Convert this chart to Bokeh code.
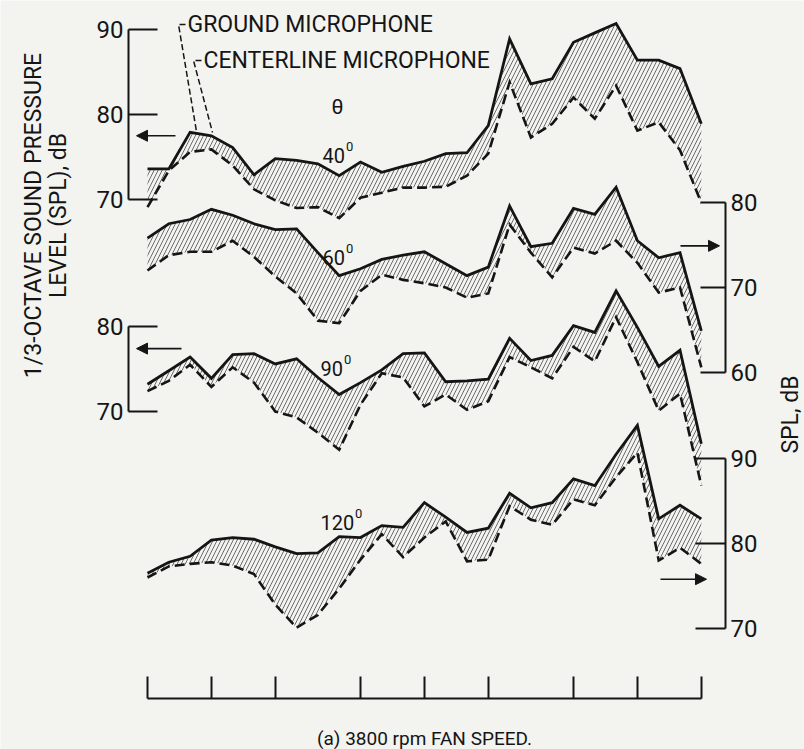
from bokeh.plotting import figure
from bokeh.models import Range1d, LinearAxis, FixedTicker, Arrow, NormalHead, Grid
from bokeh.core.properties import value
from bokeh.embed import file_html
from bokeh.resources import INLINE

# ---- data: 1/3-octave band index, SPL in dB for each directivity angle ----
bands = list(range(27))
band_ticks = [0, 3, 6, 10, 13, 16, 20, 23, 26]

ground_40 = [73.6, 73.6, 77.9, 77.5, 76.1, 72.9, 74.8, 74.6, 74.2, 72.8, 74.4, 73.2, 73.9, 74.5,
             75.4, 75.5, 78.7, 88.9, 83.6, 84.2, 88.5, 89.6, 90.7, 86.4, 86.4, 85.4, 78.9]
center_40 = [69.1, 73.4, 75.6, 75.9, 74.0, 71.2, 69.9, 69.0, 69.1, 67.8, 70.2, 70.8, 71.4, 71.4,
             71.5, 72.8, 75.4, 83.8, 77.3, 78.9, 82.0, 79.5, 83.4, 78.1, 79.1, 75.8, 69.6]

ground_60 = [75.8, 77.5, 78.0, 79.2, 78.5, 77.5, 76.8, 76.9, 74.1, 71.4, 72.2, 73.3, 73.8, 74.2,
             72.8, 71.4, 72.4, 79.6, 74.8, 75.2, 79.3, 78.6, 81.8, 75.5, 73.5, 74.1, 64.9]
center_60 = [72.0, 73.8, 74.2, 74.2, 75.5, 73.6, 71.3, 69.3, 66.1, 65.8, 69.6, 71.5, 70.9, 70.5,
             70.0, 68.8, 69.3, 77.4, 74.1, 71.2, 74.7, 74.0, 75.5, 72.9, 69.4, 70.0, 60.6]

ground_90 = [73.2, 74.8, 76.4, 73.9, 76.7, 76.8, 75.6, 76.2, 74.0, 72.0, 73.4, 74.9, 76.8, 76.9,
             73.5, 73.6, 73.8, 78.6, 76.0, 76.6, 80.1, 79.3, 84.2, 79.9, 75.3, 77.2, 66.2]
center_90 = [72.4, 73.6, 75.5, 72.9, 75.2, 73.4, 70.0, 69.3, 67.5, 65.5, 70.8, 74.5, 74.0, 70.6,
             72.0, 70.2, 71.2, 76.4, 75.2, 73.9, 77.6, 75.9, 81.1, 75.8, 70.1, 72.1, 61.3]

ground_120 = [76.5, 77.8, 78.5, 80.4, 80.7, 80.5, 79.6, 78.8, 78.9, 80.8, 80.7, 82.1, 81.9, 84.8,
              83.1, 81.3, 81.8, 85.9, 84.2, 84.8, 87.6, 86.8, 90.5, 93.9, 82.9, 84.5, 82.9]
center_120 = [76.0, 77.3, 77.6, 77.8, 77.4, 76.4, 72.8, 70.1, 71.6, 74.7, 78.1, 81.1, 78.4, 80.7,
              82.6, 77.9, 78.1, 84.4, 82.8, 82.2, 85.2, 84.5, 87.8, 90.7, 78.0, 79.5, 77.6]

scale_40 = [70, 80, 90]
scale_60 = [60, 70, 80]
scale_90 = [70, 80]
scale_120 = [70, 80, 90]

angle_labels = ["40", "60", "90", "120"]

# ---- layout ----
W, H = 804, 749
X0_PX, PX_PER_BAND = 147.0, 21.3      # screen column of band 0, band spacing
PX_PER_DB = 8.5
ROW_70 = {"40": 199, "60": 287, "90": 411, "120": 628}   # screen row of 70 dB per scale
FONT = "Roboto"
INK = "#151515"
HATCH = "#4a4a4a"
PAPER = "#f3f3f0"


def bx(px):
    return (px - X0_PX) / PX_PER_BAND


def dby(px, key="40"):
    return 70.0 + (ROW_70[key] - px) / PX_PER_DB


def y_range_for(key):
    return Range1d(dby(H, key), dby(0, key))


p = figure(width=W, height=H, x_range=Range1d(bx(0), bx(W)), y_range=y_range_for("40"),
           x_axis_location=None, y_axis_location=None, toolbar_location=None,
           output_backend="svg", min_border=0, background_fill_color=PAPER,
           border_fill_color=PAPER, outline_line_color=None)
p.extra_y_ranges = {k: y_range_for(k) for k in ("60", "90", "120")}
for r in p.center:
    if isinstance(r, Grid):
        r.visible = False

panels = [
    dict(key="40", g=ground_40, c=center_40, ticks=scale_40, side="left", tick_len=29,
         arrow=(77.5, 175, 136), label=(322, 155)),
    dict(key="60", g=ground_60, c=center_60, ticks=scale_60, side="right", tick_len=25,
         arrow=(74.9, 680, 719), label=(322, 257)),
    dict(key="90", g=ground_90, c=center_90, ticks=scale_90, side="left", tick_len=29,
         arrow=(77.4, 181, 136), label=(320, 368)),
    dict(key="120", g=ground_120, c=center_120, ticks=scale_120, side="right", tick_len=30,
         arrow=(75.8, 660, 706), label=(320, 522)),
]

for pan, name in zip(panels, angle_labels):
    key = pan["key"]
    rn = "default" if key == "40" else key

    # hatched band between the two microphones
    p.varea(x=bands, y1=pan["g"], y2=pan["c"], y_range_name=rn, fill_alpha=0,
            hatch_pattern="/", hatch_scale=8, hatch_weight=1, hatch_color=HATCH,
            hatch_alpha=0.8)
    p.line(bands, pan["c"], y_range_name=rn, line_color=INK, line_width=2.6,
           line_dash="10 5", line_join="miter")
    p.line(bands, pan["g"], y_range_name=rn, line_color=INK, line_width=2.8,
           line_join="miter")

    # bracket scale for this angle
    xloc = bx(128) if pan["side"] == "left" else bx(725)
    ax = LinearAxis(y_range_name=rn, fixed_location=xloc,
                    bounds=(min(pan["ticks"]), max(pan["ticks"])),
                    ticker=FixedTicker(ticks=pan["ticks"]),
                    major_tick_in=pan["tick_len"], major_tick_out=0,
                    minor_tick_in=0, minor_tick_out=0,
                    axis_line_color=INK, axis_line_width=2,
                    major_tick_line_color=INK, major_tick_line_width=2,
                    major_label_standoff=5, major_label_text_font=FONT,
                    major_label_text_font_size="24px", major_label_text_color=INK)
    p.add_layout(ax, pan["side"])

    # arrow pointing to the scale in use
    lvl, xs, xe = pan["arrow"]
    p.add_layout(Arrow(end=NormalHead(size=11, fill_color=INK, line_color=INK),
                       x_start=bx(xs), y_start=lvl, x_end=bx(xe), y_end=lvl,
                       y_range_name=rn, line_color=INK, line_width=1.6))

    # angle label with superscript degree mark
    lx, ly = pan["label"]
    p.text(x=[bx(lx)], y=[dby(ly, key)], text=[name], y_range_name=rn,
           text_font=value(FONT), text_font_size="20px", text_color=INK,
           text_align="left", text_baseline="alphabetic")
    p.text(x=[bx(lx)], y=[dby(ly, key)], text=["0"], y_range_name=rn,
           x_offset=11.2 * len(name) + 1, y_offset=-9,
           text_font=value(FONT), text_font_size="13px", text_color=INK,
           text_align="left", text_baseline="alphabetic")

# theta heading over the angle labels
p.text(x=[bx(337)], y=[dby(106)], text=["\u03b8"], text_font=value(FONT),
       text_font_size="21px", text_color=INK, text_align="center", text_baseline="middle")

# band axis along the bottom
bottom = LinearAxis(fixed_location=dby(698), bounds=(band_ticks[0], band_ticks[-1]),
                    ticker=FixedTicker(ticks=band_ticks), major_tick_in=22, major_tick_out=0,
                    minor_tick_in=0, minor_tick_out=0, axis_line_color=INK, axis_line_width=2,
                    major_tick_line_color=INK, major_tick_line_width=2,
                    major_label_overrides={t: "" for t in band_ticks})
p.add_layout(bottom, "below")

# microphone key with leader lines
p.text(x=[bx(187), bx(203)], y=[dby(24), dby(60)],
       text=["GROUND MICROPHONE", "CENTERLINE MICROPHONE"], text_font=value(FONT),
       text_font_size="23px", text_color=INK, text_align="left", text_baseline="middle")
p.line([bx(185), bx(178), bx(196)], [dby(24), dby(24), dby(131)], line_color=INK,
       line_width=1.5, line_dash="6 3")
p.line([bx(201), bx(193), bx(212)], [dby(60), dby(60), dby(132)], line_color=INK,
       line_width=1.5, line_dash="6 3")

# axis titles and caption
p.text(x=[bx(33), bx(58)], y=[dby(215), dby(215)],
       text=["1/3-OCTAVE SOUND PRESSURE", "LEVEL (SPL), dB"], angle=1.5708,
       text_font=value(FONT), text_font_size="23px", text_color=INK,
       text_align="center", text_baseline="middle")
p.text(x=[bx(790)], y=[dby(414)], text=["SPL, dB"], angle=1.5708,
       text_font=value(FONT), text_font_size="23px", text_color=INK,
       text_align="center", text_baseline="middle")
p.text(x=[bx(424)], y=[dby(738)], text=["(a) 3800 rpm FAN SPEED."],
       text_font=value(FONT), text_font_size="19px", text_color=INK,
       text_align="center", text_baseline="middle")

open("out.html", "w").write(file_html(p, INLINE))
